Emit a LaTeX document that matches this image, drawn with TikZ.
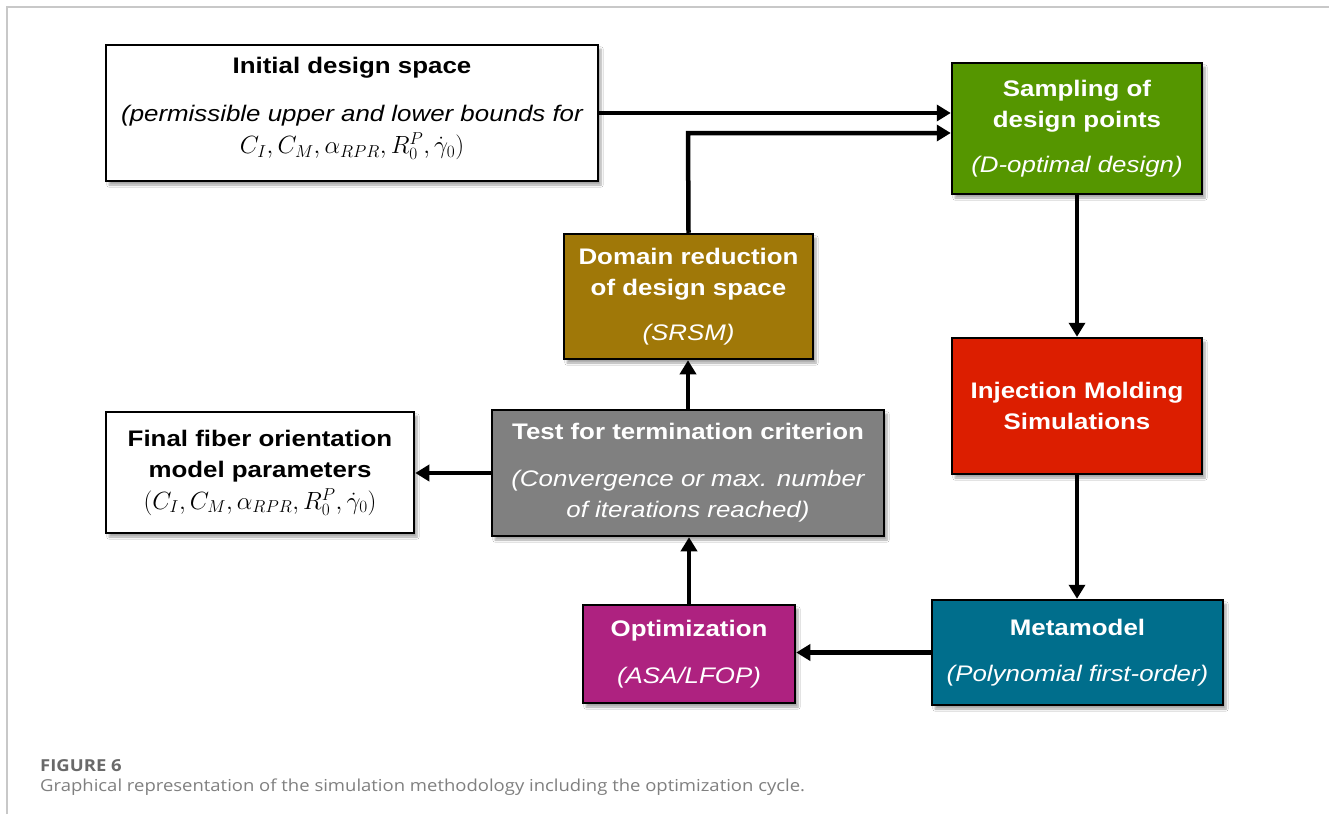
\documentclass[tikz,border=0pt]{standalone}
\usepackage{fontspec}
\setmainfont{Liberation Sans}[FakeStretch=1.15]
\newfontfamily\capfont{Open Sans}[FakeStretch=1.12]
\usetikzlibrary{arrows.meta,shadows.blur}

\definecolor{frameline}{RGB}{200,200,200}
\definecolor{sampgreen}{RGB}{85,150,0}
\definecolor{domgold}{RGB}{160,120,8}
\definecolor{injred}{RGB}{220,30,0}
\definecolor{testgray}{RGB}{128,128,128}
\definecolor{optmagenta}{RGB}{174,34,128}
\definecolor{metateal}{RGB}{0,110,140}
\definecolor{capgray}{RGB}{105,105,105}
\definecolor{captext}{RGB}{128,128,128}

\newcommand{\paramlist}[1]{{\fontsize{24}{31}\selectfont $#1$}}

\tikzset{
  box/.style={draw=black, line width=2.5pt, align=center, inner sep=0pt,
    text=white, font=\fontsize{22.5}{31}\selectfont,
    blur shadow={shadow xshift=3pt, shadow yshift=-4pt, shadow blur steps=6, shadow opacity=35}},
  flow/.style={line width=4.5pt, -{Triangle[length=14pt,width=16pt]}},
}

\begin{document}
\begin{tikzpicture}[x=1pt,y=-1pt]
  \useasboundingbox (0,0) rectangle (1329,814);
  \fill[white] (0,0) rectangle (1329,814);
  % page frame (top and left rules)
  \draw[frameline, line width=1.3pt] (7,814) -- (7,7) -- (1329,7);

  % process boxes
  \node[box, fill=white, text=black, minimum width=492pt, minimum height=136pt] (init) at (352,113)
    {{\bfseries Initial design space}\\[17pt]
     {\itshape (permissible upper and lower bounds for}\\[1pt]
     \paramlist{C_I, C_M, \alpha_{RPR}, R_0^P, \dot{\gamma}_0)}\\[-25pt]\strut};
  \node[box, fill=sampgreen, minimum width=250pt, minimum height=131pt] (samp) at (1077,128.5)
    {{\bfseries Sampling of}\\{\bfseries design points}\\[14pt]{\itshape (D-optimal design)}};
  \node[box, fill=domgold, minimum width=249pt, minimum height=125pt] (dom) at (688.5,296.5)
    {{\bfseries Domain reduction}\\{\bfseries of design space}\\[14pt]{\itshape (SRSM)}};
  \node[box, fill=injred, minimum width=250pt, minimum height=136pt] (inj) at (1077,406)
    {{\bfseries Injection Molding}\\{\bfseries Simulations}};
  \node[box, fill=white, text=black, minimum width=308pt, minimum height=121pt] (fin) at (260,472.5)
    {{\bfseries Final fiber orientation}\\{\bfseries model parameters}\\[1pt]
     \paramlist{(C_I, C_M, \alpha_{RPR}, R_0^P, \dot{\gamma}_0)}};
  \node[box, fill=testgray, minimum width=392pt, minimum height=126pt] (test) at (688,473)
    {{\bfseries Test for termination criterion}\\[16pt]
     {\itshape (Convergence or max. number}\\{\itshape of iterations reached)}};
  \node[box, fill=optmagenta, minimum width=212pt, minimum height=98pt] (opt) at (689,654)
    {{\bfseries Optimization}\\[16pt]{\itshape (ASA/LFOP)}};
  \node[box, fill=metateal, minimum width=291pt, minimum height=105pt] (meta) at (1077.5,652.5)
    {{\bfseries Metamodel}\\[15pt]{\itshape (Polynomial first-order)}};

  % connectors
  \coordinate (bend) at (688,133);
  \draw[flow] (init.east) -- (init.east -| samp.west);
  \draw[flow] (dom.north) -- (bend) -- (bend -| samp.west);
  \draw[flow] (samp.south) -- (inj.north);
  \draw[flow] (inj.south) -- (inj.south |- meta.north);
  \draw[flow] (meta.west) -- (meta.west -| opt.east);
  \draw[flow] (opt.north) -- (opt.north |- test.south);
  \draw[flow] (test.north) -- (test.north |- dom.south);
  \draw[flow] (test.west) -- (test.west -| fin.east);

  % caption
  \node[anchor=base west, inner sep=0pt, text=capgray, font=\capfont\bfseries\fontsize{16.5}{18}\selectfont] (figlabel) at (40,771) {FIGURE 6};
  \node[anchor=base west, inner sep=0pt, text=captext, font=\capfont\fontsize{16.5}{18}\selectfont] (caption) at (40,791)
    {Graphical representation of the simulation methodology including the optimization cycle.};
\end{tikzpicture}
\end{document}
